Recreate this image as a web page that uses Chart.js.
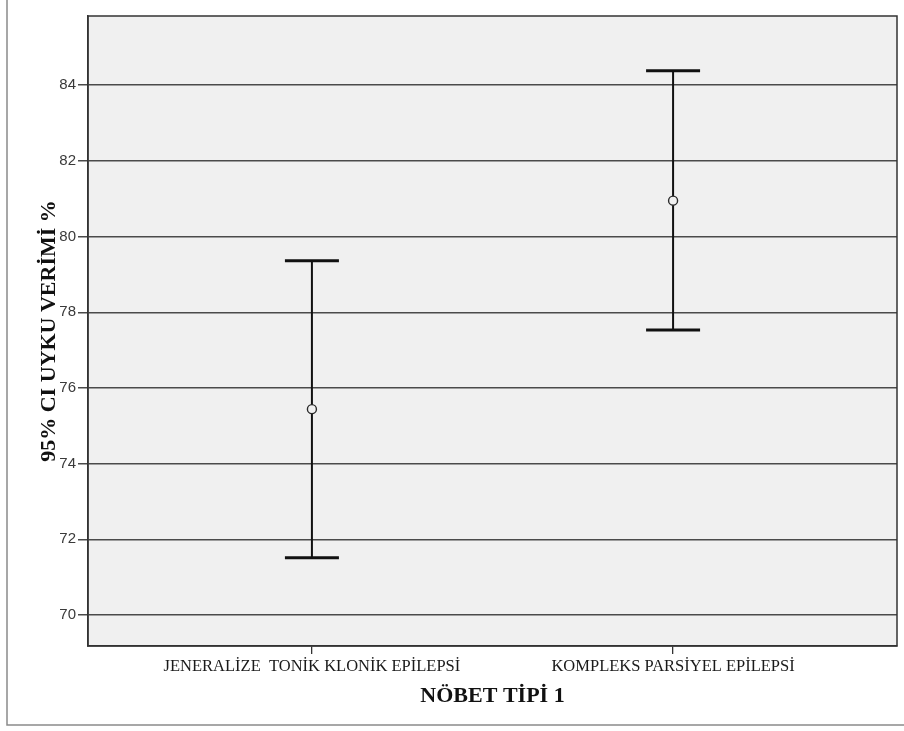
<!DOCTYPE html>
<html>
<head>
<meta charset="utf-8">
<script src="https://cdn.jsdelivr.net/npm/chart.js@4/dist/chart.umd.min.js"></script>
<style>
  html, body { margin: 0; padding: 0; background: #fff; }
  #wrap { width: 904px; height: 731px; position: relative; }
</style>
</head>
<body>
<div id="wrap"><canvas id="ci"></canvas></div>
<script>
const categories = ['JENERALİZE  TONİK KLONİK EPİLEPSİ', 'KOMPLEKS PARSİYEL EPİLEPSİ'];
const means = [75.44, 80.95];
const lower = [71.51, 77.53];
const upper = [79.36, 84.38];
const yTicks = [70, 72, 74, 76, 78, 80, 82, 84];

const plotBg = '#f0f0f0';
const ink = '#111';

// plot background, outer frame, error bars and the plot box
const ciPlugin = {
  id: 'ciBars',
  beforeDraw(chart) {
    const { ctx, chartArea: a } = chart;
    ctx.save();
    ctx.fillStyle = plotBg;
    ctx.fillRect(a.left, a.top, a.right - a.left, a.bottom - a.top);
    ctx.strokeStyle = '#8a8a8a';
    ctx.lineWidth = 1.5;
    ctx.beginPath();
    ctx.moveTo(7, 0);
    ctx.lineTo(7, 725);
    ctx.lineTo(chart.width, 725);
    ctx.stroke();
    ctx.restore();
  },
  beforeDatasetsDraw(chart) {
    const { ctx, scales: { x, y } } = chart;
    const capHalf = 27;
    ctx.save();
    ctx.strokeStyle = ink;
    means.forEach((m, i) => {
      const px = x.getPixelForValue(i);
      const top = y.getPixelForValue(upper[i]);
      const bot = y.getPixelForValue(lower[i]);
      ctx.lineWidth = 2;
      ctx.beginPath();
      ctx.moveTo(px, top);
      ctx.lineTo(px, bot);
      ctx.stroke();
      ctx.lineWidth = 3;
      ctx.beginPath();
      ctx.moveTo(px - capHalf, top);
      ctx.lineTo(px + capHalf, top);
      ctx.moveTo(px - capHalf, bot);
      ctx.lineTo(px + capHalf, bot);
      ctx.stroke();
    });
    ctx.restore();
  },
  afterDraw(chart) {
    const { ctx, chartArea: a } = chart;
    ctx.save();
    ctx.strokeStyle = '#333';
    ctx.lineWidth = 1.5;
    ctx.strokeRect(a.left, a.top, a.right - a.left, a.bottom - a.top);
    ctx.restore();
  }
};

new Chart(document.getElementById('ci'), {
  type: 'scatter',
  data: {
    datasets: [{
      data: means.map((m, i) => ({ x: i, y: m })),
      pointRadius: 4.5,
      pointBorderWidth: 1.4,
      pointBorderColor: '#2a2a2a',
      pointBackgroundColor: plotBg
    }]
  },
  options: {
    responsive: true,
    maintainAspectRatio: false,
    animation: false,
    layout: { padding: { left: 8, right: 7, top: 16, bottom: 0 } },
    plugins: { legend: { display: false }, tooltip: { enabled: false } },
    scales: {
      x: {
        type: 'linear',
        min: -0.62,
        max: 1.62,
        afterBuildTicks: s => { s.ticks = categories.map((_, i) => ({ value: i })); },
        afterFit: s => { s.height = 85; },
        grid: { drawOnChartArea: false, drawTicks: true, tickLength: 8, color: '#333', lineWidth: 1.3 },
        border: { display: true, color: '#333', width: 1.5 },
        ticks: {
          padding: 3,
          maxRotation: 0,
          autoSkip: false,
          color: '#1a1a1a',
          font: { family: 'Liberation Serif', size: 16.5 },
          callback: v => categories[v]
        },
        title: {
          display: true,
          text: 'NÖBET TİPİ 1',
          color: '#111',
          font: { family: 'Liberation Serif', size: 22, weight: 'bold' },
          padding: { top: 0, bottom: 21 }
        }
      },
      y: {
        min: 69.18,
        max: 85.83,
        afterBuildTicks: s => { s.ticks = yTicks.map(v => ({ value: v })); },
        afterFit: s => { s.width = 80; },
        grid: { color: '#4a4a4a', lineWidth: 1.5, tickLength: 10, drawTicks: true },
        border: { display: true, color: '#333', width: 1.5 },
        ticks: {
          padding: 2,
          color: '#3a3a3a',
          font: { family: 'Liberation Sans', size: 15 }
        },
        title: {
          display: true,
          text: '95% CI UYKU VERİMİ %',
          color: '#111',
          font: { family: 'Liberation Serif', size: 22, weight: 'bold' },
          padding: { top: 28, bottom: 0 }
        }
      }
    }
  },
  plugins: [ciPlugin]
});
</script>
</body>
</html>
